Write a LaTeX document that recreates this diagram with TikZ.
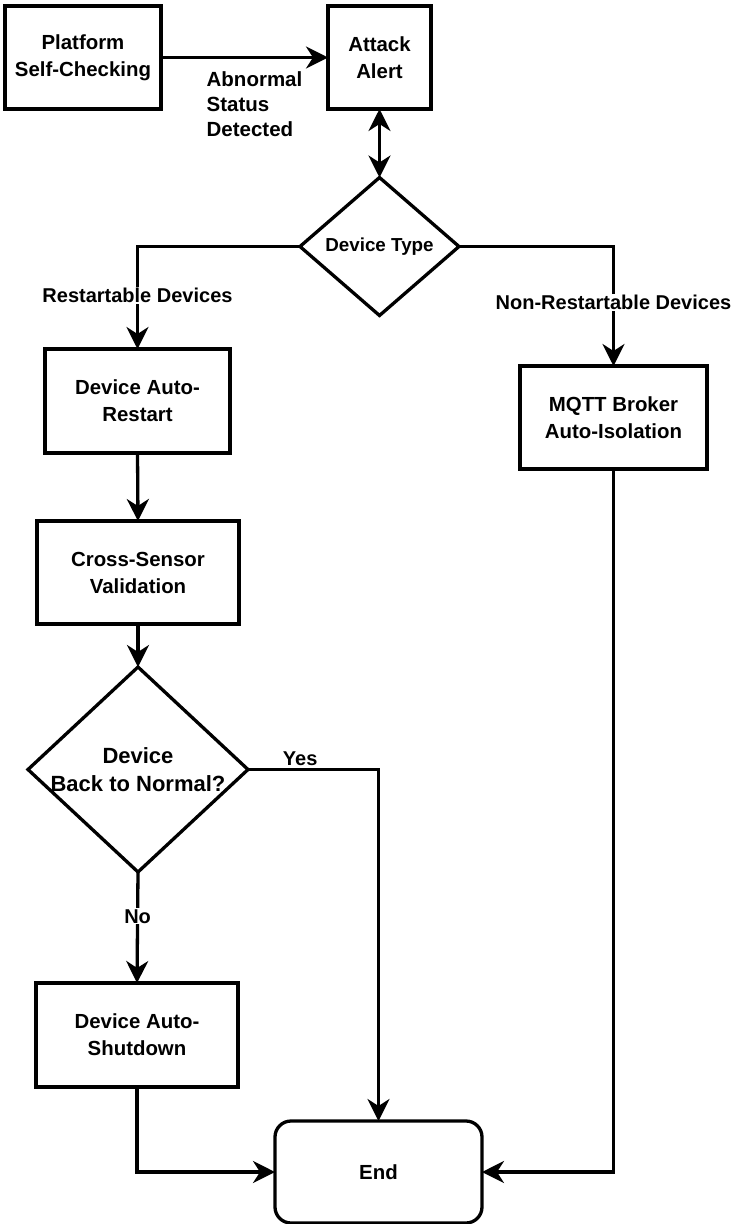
\documentclass[tikz,border=0pt]{standalone}
\usepackage{fontspec}
\setmainfont{Liberation Sans}
\usetikzlibrary{shapes.geometric,arrows.meta}
\begin{document}
\begin{tikzpicture}[x=1pt,y=-1pt,
  line width=3.3pt,
  >={Stealth[length=22pt,width=22pt,inset=7pt]},
  proc/.style={draw, rectangle, inner sep=0pt, outer sep=0pt, align=center,
    font=\bfseries\fontsize{20.4}{27}\selectfont},
  decision/.style={draw, diamond, inner sep=0pt, outer sep=0pt, align=center},
  edgelabel/.style={fill=white, inner sep=1pt, font=\bfseries\fontsize{20}{22}\selectfont},
  flow/.style={->}
]
\useasboundingbox (0,0) rectangle (734,1224);
\fill[white] (0,0) rectangle (734,1224);

% process steps
\node[proc, minimum width=156pt, minimum height=103pt] (plat) at (83,57.5) {Platform\\Self-Checking};
\node[proc, minimum width=103pt, minimum height=103pt] (alert) at (379.5,57.5) {Attack\\Alert};
\node[decision, minimum width=159pt, minimum height=138pt,
      font=\bfseries\fontsize{18.8}{22}\selectfont] (dtype) at (379.5,246.5) {Device Type};
\node[proc, minimum width=185pt, minimum height=104pt] (restart) at (137.5,401) {Device Auto-\\Restart};
\node[proc, minimum width=187pt, minimum height=103pt] (mqtt) at (613.5,417.5) {MQTT Broker\\Auto-Isolation};
\node[proc, minimum width=202pt, minimum height=103pt] (cross) at (138,572.5) {Cross-Sensor\\Validation};
% the question text is wider than the diamond, so it is set as a centred label
\node[decision, minimum width=220pt, minimum height=205pt,
      label={[align=center, font=\bfseries\fontsize{22}{28}\selectfont]center:Device\\Back to Normal?}]
      (normal) at (138,769.5) {};
\node[proc, minimum width=202pt, minimum height=104pt] (shut) at (137,1035) {Device Auto-\\Shutdown};
\node[proc, rounded corners=16pt, minimum width=207pt, minimum height=102pt] (end) at (378.5,1172) {End};

% connectors
\draw[flow] (plat.east) -- (alert.west);
\node[anchor=north west, inner sep=0pt, align=left,
      font=\bfseries\fontsize{20.5}{25}\selectfont] (abn) at (205,70) {Abnormal\\Status\\Detected};
\draw[<->] (alert.south) -- (dtype.north);
\draw[flow] (dtype.west) -| node[edgelabel, pos=0.74] {Restartable Devices} (restart.north);
\draw[flow] (dtype.east) -| node[edgelabel, pos=0.735] {Non-Restartable Devices} (mqtt.north);
\draw[flow] (restart.south) -- (cross.north);
\draw[flow] (cross.south) -- (normal.north);
\draw[flow] (normal.east) -| node[edgelabel, fill=none, pos=0.2, above=1pt] {Yes} (end.north);
\draw[flow] (normal.south) -- node[edgelabel, pos=0.4] {No} (shut.north);
\draw[flow] (shut.south) |- (end.west);
\draw[flow] (mqtt.south) |- (end.east);
\end{tikzpicture}
\end{document}
